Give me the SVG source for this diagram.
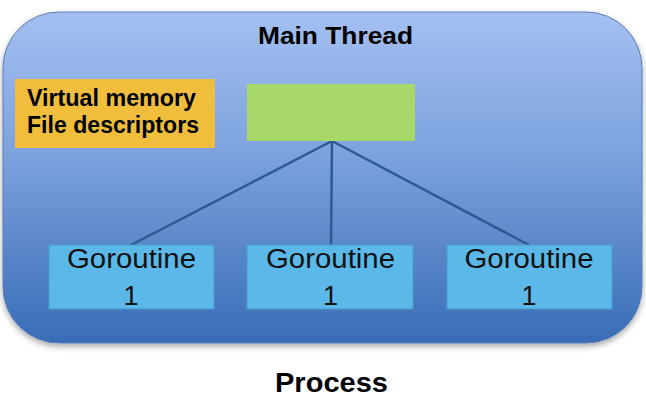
<svg xmlns="http://www.w3.org/2000/svg" width="646" height="408" viewBox="0 0 646 408">
  <defs>
    <linearGradient id="procFill" x1="0" y1="0" x2="0" y2="1">
      <stop offset="0" stop-color="#a4c0f2"/>
      <stop offset="0.45" stop-color="#7aa0dc"/>
      <stop offset="1" stop-color="#386cb6"/>
    </linearGradient>
    <filter id="shadow" x="-5%" y="-5%" width="110%" height="115%">
      <feGaussianBlur in="SourceAlpha" stdDeviation="3"/>
      <feOffset dy="3"/>
      <feComponentTransfer><feFuncA type="linear" slope="0.35"/></feComponentTransfer>
      <feMerge><feMergeNode/><feMergeNode in="SourceGraphic"/></feMerge>
    </filter>
    <style>
      .bold { font-family: "Liberation Sans", Arial, sans-serif; font-weight: bold; fill: #000; }
      .g-box { fill: #5cb8e8; stroke: #4a9ccc; stroke-width: 1; }
      .g-text { font-family: "Liberation Sans", Arial, sans-serif; font-size: 27px; fill: #111; text-anchor: middle; }
      .link { stroke: #2d5a94; stroke-width: 2.5; fill: none; }
    </style>
  </defs>

  <rect width="646" height="408" fill="#ffffff"/>

  <!-- process container -->
  <g id="process">
    <rect x="3" y="12" width="639" height="331" rx="56" ry="56" fill="url(#procFill)" stroke="#5a7fb8" stroke-width="1" filter="url(#shadow)"/>
    <text class="bold" x="335.5" y="44" font-size="24.5" text-anchor="middle" textLength="155" lengthAdjust="spacingAndGlyphs">Main Thread</text>
    <text class="bold" x="331.5" y="391.5" font-size="27.5" text-anchor="middle" textLength="113" lengthAdjust="spacingAndGlyphs">Process</text>
  </g>

  <!-- connectors -->
  <g id="connectors">
    <line class="link" x1="332" y1="141" x2="131" y2="245"/>
    <line class="link" x1="332" y1="141" x2="331" y2="245"/>
    <line class="link" x1="332" y1="141" x2="529" y2="245"/>
  </g>

  <g id="resources">
    <rect x="15" y="79" width="200" height="69" fill="#f0be3c"/>
    <text class="bold" x="27" y="105.5" font-size="23" textLength="169" lengthAdjust="spacingAndGlyphs">Virtual memory</text>
    <text class="bold" x="27" y="132.5" font-size="23" textLength="172" lengthAdjust="spacingAndGlyphs">File descriptors</text>
  </g>

  <g id="main-thread">
    <rect x="247" y="84" width="168" height="57" fill="#a8d86a"/>
  </g>

  <g id="goroutine-a">
    <rect class="g-box" x="49" y="245" width="165" height="64"/>
    <text class="g-text" x="131.5" y="268" textLength="129" lengthAdjust="spacingAndGlyphs">Goroutine</text>
    <text class="g-text" x="131" y="305">1</text>
  </g>

  <g id="goroutine-b">
    <rect class="g-box" x="247" y="245" width="166" height="64"/>
    <text class="g-text" x="330.5" y="268" textLength="129" lengthAdjust="spacingAndGlyphs">Goroutine</text>
    <text class="g-text" x="330.5" y="305">1</text>
  </g>

  <g id="goroutine-c">
    <rect class="g-box" x="447" y="245" width="165" height="64"/>
    <text class="g-text" x="529" y="268" textLength="129" lengthAdjust="spacingAndGlyphs">Goroutine</text>
    <text class="g-text" x="529" y="305">1</text>
  </g>
</svg>
